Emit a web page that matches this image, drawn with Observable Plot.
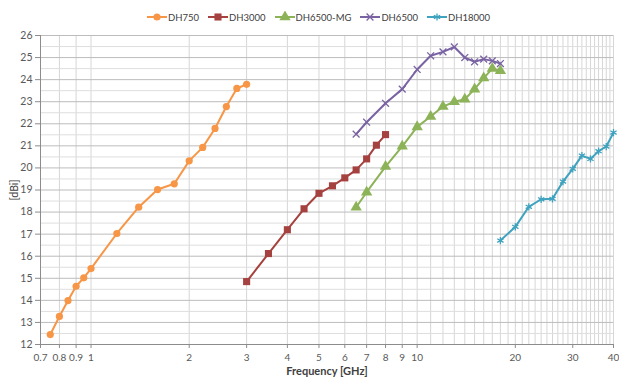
<!DOCTYPE html>
<html><head><meta charset="utf-8">
<script src="https://cdn.jsdelivr.net/npm/d3@7"></script>
<script src="https://cdn.jsdelivr.net/npm/@observablehq/plot@0.6"></script>
<style>
body{margin:0;background:#fff;font-family:Lato,"Open Sans",sans-serif;}
#chart{width:619px;height:380px;overflow:hidden;}
#legend{height:30px;display:flex;justify-content:center;align-items:center;font-size:9.5px;color:#404040;padding-left:18px;box-sizing:border-box;padding-top:4px;}
.item{display:flex;align-items:center;margin:0 4.5px;}
.item svg{margin-right:1px;}
g[aria-label="x-axis label"] text{font-weight:bold;fill:#404040;font-size:11px;}
g[aria-label="y-axis label"] text{fill:#404040;}
</style></head>
<body><div id="chart"><div id="legend"></div></div>
<script>
// ---- data ----
const seriesNames = ["DH750","DH3000","DH6500-MG","DH6500","DH18000"];
const dh750F = [0.75,0.8,0.85,0.9,0.95,1.0,1.2,1.4,1.6,1.8,2.0,2.2,2.4,2.6,2.8,3.0];
const dh750G = [12.45,13.27,13.99,14.64,15.02,15.44,17.03,18.22,19.02,19.28,20.32,20.93,21.79,22.78,23.6,23.79];
const dh3000F = [3.0,3.5,4.0,4.5,5.0,5.5,6.0,6.5,7.0,7.5,8.0];
const dh3000G = [14.85,16.12,17.2,18.15,18.85,19.19,19.55,19.91,20.41,21.03,21.51];
const dh6500mgF = [6.5,7,8,9,10,11,12,13,14,15,16,17,18];
const dh6500mgG = [18.22,18.9,20.06,20.98,21.86,22.33,22.78,23.0,23.11,23.57,24.07,24.5,24.4];
const dh6500F = [6.5,7,8,9,10,11,12,13,14,15,16,17,18];
const dh6500G = [21.53,22.07,22.93,23.57,24.46,25.08,25.26,25.48,25.0,24.81,24.93,24.85,24.73];
const dh18000F = [18,20,22,24,26,28,30,32,34,36,38,40];
const dh18000G = [16.71,17.33,18.24,18.58,18.6,19.38,19.96,20.56,20.41,20.76,20.97,21.6];
const xTickValues = [0.7,0.8,0.9,1,2,3,4,5,6,7,8,9,10,20,30,40];
const xTickLabels = ["0.7","0.8","0.9","1","2","3","4","5","6","7","8","9","10","20","30","40"];
const yTickValues = [12,13,14,15,16,17,18,19,20,21,22,23,24,25,26];
const xGridValues = [0.7,0.8,0.9,1,2,3,4,5,6,7,8,9,10,11,12,13,14,15,16,17,18,19,20,21,22,23,24,25,26,27,28,29,30,31,32,33,34,35,36,37,38,39,40];
const yHalfValues = [12.5,13.5,14.5,15.5,16.5,17.5,18.5,19.5,20.5,21.5,22.5,23.5,24.5,25.5];

// ---- styles ----
const colors = ["#F79646","#A5413E","#8DB359","#7A63A3","#3FA2BE"];
const symbols = ["circle","square","triangle","times","asterisk"];
const filled = [true,true,true,false,false];
const sizes = [3.6,4,4.2,3.2,3.4];

const seriesF = [dh750F,dh3000F,dh6500mgF,dh6500F,dh18000F];
const seriesG = [dh750G,dh3000G,dh6500mgG,dh6500G,dh18000G];
const rows = [];
seriesNames.forEach((n,i)=>seriesF[i].forEach((f,j)=>rows.push({series:n,f,g:seriesG[i][j]})));
const xTicks = xTickValues.map((v,i)=>({v, label:xTickLabels[i]}));

// legend
const legend = document.getElementById("legend");
seriesNames.forEach((n,i)=>{
  const it = document.createElement("div"); it.className="item";
  const sym = d3.symbol(d3["symbol"+symbols[i].charAt(0).toUpperCase()+symbols[i].slice(1)], Math.PI*sizes[i]*sizes[i])();
  it.innerHTML = `<svg width="20" height="12"><line x1="0" x2="20" y1="6" y2="6" stroke="${colors[i]}" stroke-width="2"/><path d="${sym}" transform="translate(10,6)" fill="${filled[i]?colors[i]:"none"}" stroke="${colors[i]}" stroke-width="${filled[i]?0:1.3}"/></svg><span>${n}</span>`;
  legend.appendChild(it);
});

const dotMarks = seriesNames.map((n,i)=>Plot.dot(rows.filter(r=>r.series===n),{
  x:"f", y:"g", symbol: ()=>symbols[i], r:sizes[i],
  fill: filled[i]?colors[i]:"none", stroke: filled[i]?"none":colors[i], strokeWidth:1.3
}));

const plot = Plot.plot({
  width:619, height:350, marginLeft:40, marginRight:6, marginTop:5, marginBottom:36,
  style:{fontFamily:"Lato, 'Open Sans', sans-serif", fontSize:"10px", color:"#595959", background:"transparent"},
  x:{type:"log", domain:[0.7,40]},
  y:{domain:[12,26]},
  symbol:{domain:symbols, range:symbols},
  marks:[
    Plot.ruleX(xGridValues,{stroke:"#d6d6d6", strokeWidth:1}),
    Plot.ruleY(yHalfValues,{stroke:"#dedede", strokeWidth:1}),
    Plot.ruleY(yTickValues,{stroke:"#bcbcbc", strokeWidth:1}),
    Plot.ruleX([0.7],{stroke:"#8c8c8c"}),
    Plot.ruleY([12],{stroke:"#8c8c8c"}),
    Plot.axisY(yTickValues, {tickSize:5, tickPadding:3, stroke:"#8c8c8c", fontSize:10.5, label:"[dBi]", labelAnchor:"center", labelOffset:30, labelArrow:"none"}),
    Plot.axisX(xTickValues, {tickFormat:()=>"", tickSize:4, tickPadding:5, stroke:"#8c8c8c", label:"Frequency [GHz]", labelAnchor:"center", labelOffset:30, labelArrow:"none"}),
    Plot.text(xTicks, {x:"v", text:"label", frameAnchor:"bottom", lineAnchor:"top", dy:9, fill:"#595959", fontSize:10}),
    ...seriesNames.map((n,i)=>Plot.line(rows.filter(r=>r.series===n),{x:"f", y:"g", stroke:colors[i], strokeWidth:2})),
    ...dotMarks
  ]
});
document.getElementById("chart").appendChild(plot);
</script>
</body></html>
